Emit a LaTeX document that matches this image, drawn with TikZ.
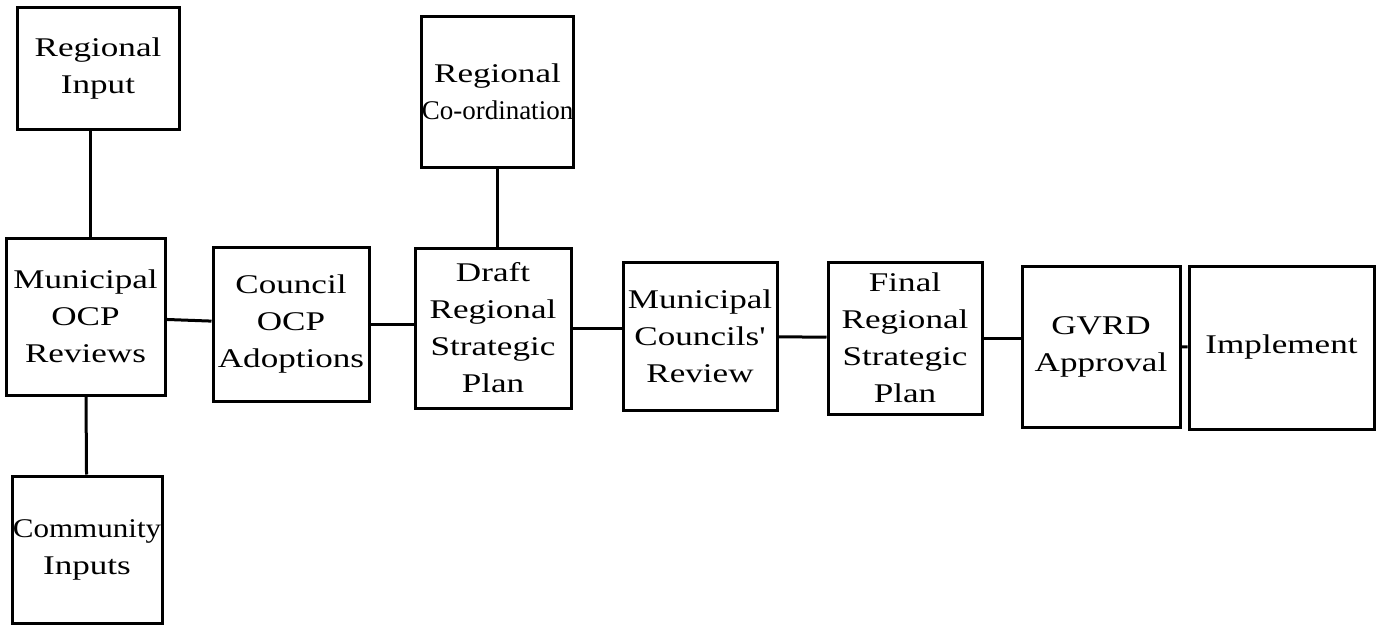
\documentclass[tikz,border=0pt]{standalone}
\usepackage{fontspec}
\setmainfont{Liberation Serif}
\newfontfamily\boxfont[FakeStretch=1.3]{Liberation Serif}
\newfontfamily\midfont[FakeStretch=1.15]{Liberation Serif}
\newfontfamily\tightfont{Liberation Serif}
\usetikzlibrary{positioning,calc}
\tikzset{
mybox/.style={
  rectangle,
  line width=3pt,
  inner sep=0pt,
  align=center,
  draw=black,
  font=\boxfont\fontsize{27}{37}\selectfont,
  }
}
\tikzset{
myline/.style={
  line width=3pt,
  }
}

\begin{document}
\begin{tikzpicture}[x=1pt,y=-1pt]
    \useasboundingbox (0,0) rectangle (1382,626);

    % input part
    \node[mybox, minimum width=162, minimum height=121] (reg_in) at (98,68.5) {Regional\\Input};
    \node[mybox, minimum width=159, minimum height=157] (mun_rev) at (85.5,316.5) {Municipal\\OCP\\Reviews};
    \node[mybox, minimum width=150, minimum height=147] (com_in) at (87,549.5) {{\midfont Community}\\Inputs};
    \node[mybox, minimum width=147, minimum height=150] (reg_coord) at (497.5,92) {Regional\\{\tightfont Co-ordination}};

    % plan part
    \node[mybox, minimum width=156, minimum height=154] (cou_ad) at (291,324) {Council\\OCP\\Adoptions};
    \node[mybox, minimum width=156, minimum height=160] (draft) at (493,328) {Draft\\Regional\\Strategic\\Plan};
    \node[mybox, minimum width=154, minimum height=148] (mun_cou) at (700,336) {Municipal\\Councils'\\Review};
    \node[mybox, minimum width=154, minimum height=152] (final) at (905,338) {Final\\Regional\\Strategic\\Plan};
    \node[mybox, minimum width=158, minimum height=161] (gvrd) at (1101,346.5) {GVRD\\Approval};
    \node[mybox, minimum width=185, minimum height=163] (impl) at (1281.5,347.5) {Implement};

    % input edges
    \draw[myline] ([xshift=-8pt]reg_in.south) -- ([xshift=4.5pt]mun_rev.north);
    \draw[myline] (mun_rev) -- (com_in);
    \draw[myline] (reg_coord) -- (reg_coord |- draft.north);

    % plan edges
    \draw[myline] (mun_rev) -- (cou_ad);
    \draw[myline] (cou_ad.east) -- (cou_ad.east -| draft.west);
    \draw[myline] (draft.east) -- (draft.east -| mun_cou.west);
    \draw[myline] (mun_cou) -- (final);
    \draw[myline] (final.east) -- (final.east -| gvrd.west);
    \draw[myline] (gvrd) -- (impl);
\end{tikzpicture}
\end{document}
